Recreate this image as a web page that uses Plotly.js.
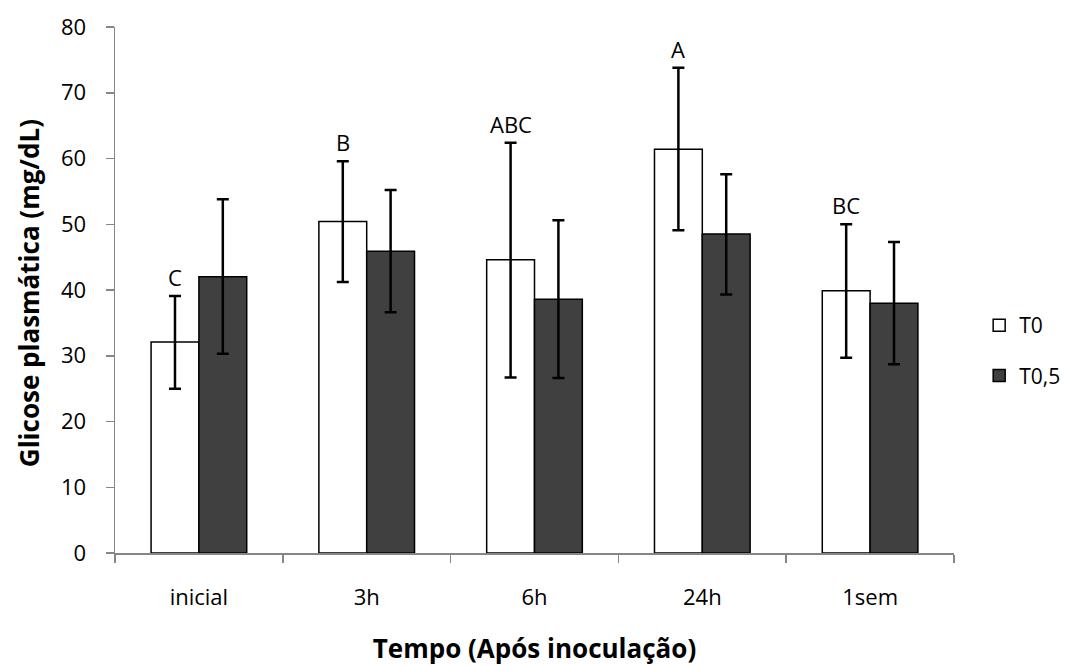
<!DOCTYPE html>
<html>
<head>
<meta charset="utf-8">
<script src="https://cdn.plot.ly/plotly-3.0.1.min.js"></script>
<style>html,body{margin:0;padding:0;background:#fff;}#chart{width:1065px;height:666px;}</style>
</head>
<body>
<div id="chart"></div>
<script>
const categories = ['inicial', '3h', '6h', '24h', '1sem'];
const t0Values = [32.1, 50.4, 44.6, 61.4, 39.9];
const t0ErrUp = [7.0, 9.2, 17.8, 12.4, 10.1];
const t0ErrDown = [7.1, 9.2, 17.9, 12.3, 10.2];
const t05Values = [42.0, 45.9, 38.6, 48.5, 38.0];
const t05ErrUp = [11.8, 9.3, 12.0, 9.1, 9.3];
const t05ErrDown = [11.7, 9.3, 12.0, 9.2, 9.3];
const letters = ['C', 'B', 'ABC', 'A', 'BC'];

const FONT = 'Open Sans, Noto Sans, sans-serif';
const bargap = 0.43;

const traces = [
  {
    type: 'bar', name: 'T0', x: categories, y: t0Values, legendgroup: 'a',
    marker: {color: '#ffffff', line: {color: '#000000', width: 1.5}},
    error_y: {type: 'data', symmetric: false, array: t0ErrUp, arrayminus: t0ErrDown,
              color: '#000000', thickness: 2.5, width: 6}
  },
  {
    type: 'bar', name: 'T0,5', x: categories, y: t05Values, legendgroup: 'b',
    marker: {color: '#404040', line: {color: '#000000', width: 1.5}},
    error_y: {type: 'data', symmetric: false, array: t05ErrUp, arrayminus: t05ErrDown,
              color: '#000000', thickness: 2.5, width: 6}
  }
];

const barW = (1 - bargap) / 2;
const annotations = letters.map((t, i) => ({
  x: i - barW / 2, y: t0Values[i] + t0ErrUp[i], xref: 'x', yref: 'y',
  text: t, showarrow: false, yanchor: 'bottom', yshift: 2,
  font: {family: FONT, size: 22, color: '#000000'}
}));
annotations.push({
  xref: 'paper', yref: 'paper', x: 0, y: 0.494, xanchor: 'center', yanchor: 'middle',
  xshift: -86, textangle: -90, showarrow: false,
  text: '<b>Glicose plasmática (mg/dL)</b>',
  font: {family: FONT, size: 26, color: '#000000'}
});

const layout = {
  width: 1065, height: 666,
  margin: {l: 115, r: 111, t: 27, b: 113, autoexpand: false},
  paper_bgcolor: '#ffffff', plot_bgcolor: '#ffffff',
  barmode: 'group', bargap: bargap, bargroupgap: 0,
  font: {family: FONT, color: '#000000'},
  showlegend: true,
  legend: {x: 1.03, xanchor: 'left', y: 0.385, yanchor: 'middle',
           font: {family: FONT, size: 21, color: '#000000'},
           itemwidth: 30, tracegroupgap: 20, traceorder: 'grouped'},
  xaxis: {
    type: 'category', showgrid: false, zeroline: false,
    showline: true, linecolor: '#868686', linewidth: 1.5,
    ticks: 'outside', tickson: 'boundaries', ticklen: 8, tickcolor: '#868686', tickwidth: 1.5,
    tickfont: {family: FONT, size: 22, color: '#000000'}, ticklabelstandoff: 24,
    title: {text: '<b>Tempo (Após inoculação)</b>', font: {family: FONT, size: 26, color: '#000000'}, standoff: 31}
  },
  yaxis: {
    range: [0, 80], dtick: 10, showgrid: false, zeroline: false,
    showline: true, linecolor: '#868686', linewidth: 1.5,
    ticks: 'outside', ticklen: 8, tickcolor: '#868686', tickwidth: 1.5,
    tickfont: {family: FONT, size: 22, color: '#000000'}, ticklabelstandoff: 15
  },
  annotations: annotations
};

Plotly.newPlot('chart', traces, layout, {displayModeBar: false, staticPlot: true});
</script>
</body>
</html>
